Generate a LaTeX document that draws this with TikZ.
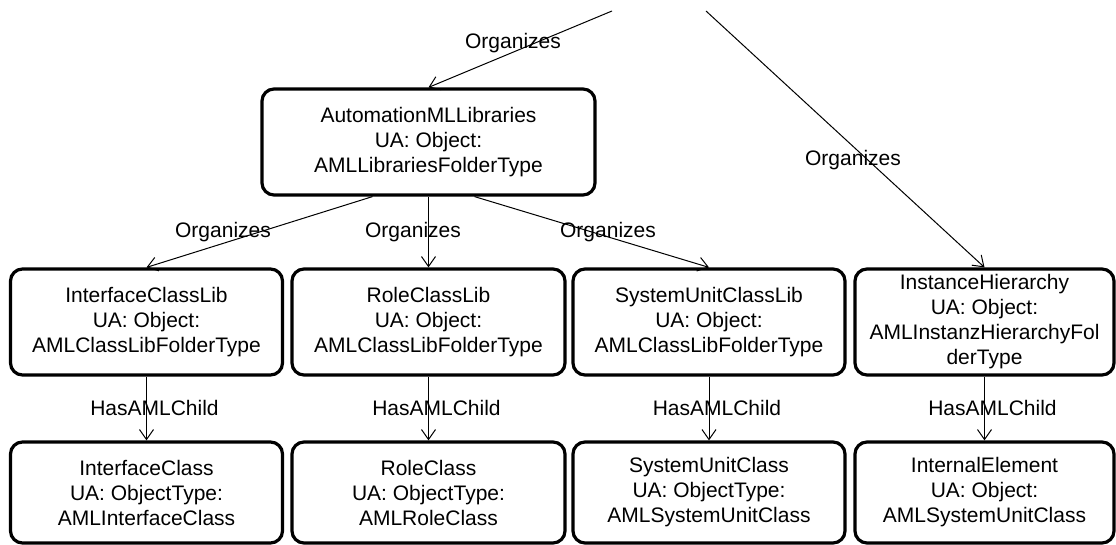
\documentclass[tikz,border=0pt]{standalone}
\usepackage{fontspec}
\setmainfont{Liberation Sans}
\usetikzlibrary{arrows.meta,positioning,calc}

\tikzset{
  amlbox/.style={draw, line width=1.6pt, rounded corners=6pt, align=center,
    inner sep=0pt, font=\fontsize{10.5}{12.5}\selectfont},
  rel/.style={line width=0.5pt, -{Straight Barb[length=5pt,width=7pt]}},
  lbl/.style={font=\fontsize{10.5}{12.5}\selectfont, inner sep=0pt}
}

\begin{document}
\begin{tikzpicture}[x=0.5pt, y=-0.5pt]
  \fill[white] (0,0) rectangle (1116,545);
  \useasboundingbox (0,0) rectangle (1116,545);

  % libraries folder
  \node[amlbox, minimum width=166.5pt, minimum height=53pt] (libs) at (428.5,142)
    {AutomationMLLibraries\\UA: Object:\\AMLLibrariesFolderType};

  % class libs (upper row) and their children (lower row)
  \foreach \nm/\x/\w/\libtext/\clstext in {
      ic/146.5/136/{InterfaceClassLib\\UA: Object:\\AMLClassLibFolderType}/{InterfaceClass\\UA: ObjectType:\\AMLInterfaceClass},
      rc/428.5/136.5/{RoleClassLib\\UA: Object:\\AMLClassLibFolderType}/{RoleClass\\UA: ObjectType:\\AMLRoleClass},
      suc/709/136/{SystemUnitClassLib\\UA: Object:\\AMLClassLibFolderType}/{SystemUnitClass\\UA: ObjectType:\\AMLSystemUnitClass},
      ih/984.5/129.5/{InstanceHierarchy\\UA: Object:\\AMLInstanzHierarchyFol\\derType}/{InternalElement\\UA: Object:\\AMLSystemUnitClass}} {
    \node[amlbox, minimum width=\w pt, minimum height=53pt] (\nm lib) at (\x,322) {\libtext};
    \node[amlbox, minimum width=\w pt, minimum height=50.5pt] (\nm) at (\x,492.5) {\clstext};
    \draw[rel] (\nm lib.south) -- (\nm.north);
    \node[lbl] (has\nm) at (\x+8,408) {HasAMLChild};
  }

  % incoming references from above
  \coordinate (inlibs) at (612,11);
  \coordinate (inih) at (706,11);
  \draw[rel] (inlibs) -- (libs.north);
  \draw[rel] (inih) -- (ihlib.north);
  \node[lbl] (orglibs) at (513,43) {Organizes};
  \node[lbl] (orgih) at (853,160) {Organizes};

  % libraries folder organizes the class libs
  \draw[rel] ([xshift=-28pt]libs.south) -- (iclib.north);
  \draw[rel] (libs.south) -- (rclib.north);
  \draw[rel] ([xshift=23pt]libs.south) -- (suclib.north);
  \node[lbl] (orgic) at (223,232) {Organizes};
  \node[lbl] (orgrc) at (413,232) {Organizes};
  \node[lbl] (orgsuc) at (608,232) {Organizes};
\end{tikzpicture}
\end{document}
